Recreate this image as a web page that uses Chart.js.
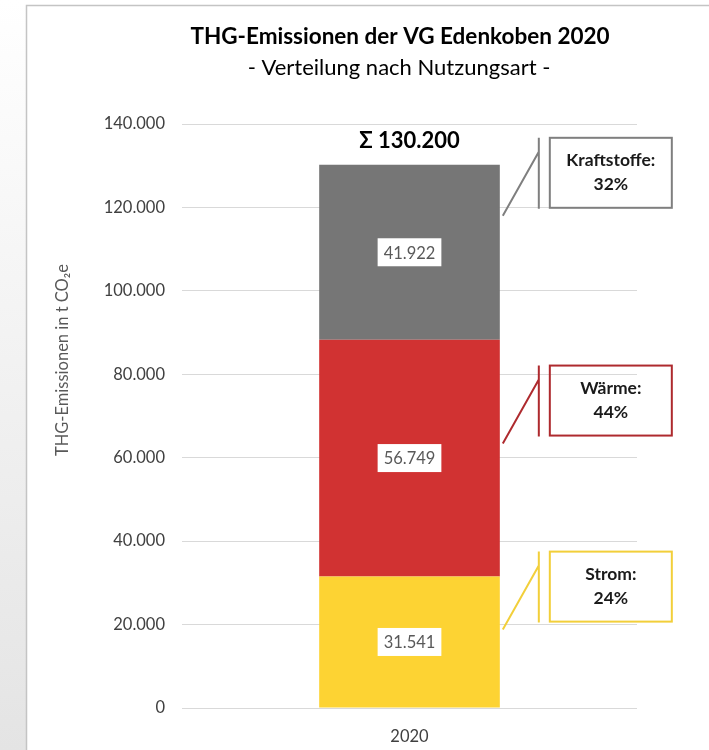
<!DOCTYPE html>
<html>
<head>
<meta charset="utf-8">
<script src="https://cdn.jsdelivr.net/npm/chart.js@4.4.1/dist/chart.umd.min.js"></script>
<style>
  html, body { margin: 0; padding: 0; background: #fff; }
  #wrap { width: 709px; height: 750px; }
</style>
</head>
<body>
<div id="wrap"><canvas id="chart" width="709" height="750"></canvas></div>
<script>
// data
const years = ['2020']
const stromValues = [31541]
const waermeValues = [56749]
const kraftstoffValues = [41922]
const seriesNames = ['Strom', 'Wärme', 'Kraftstoffe']
// where each callout box sits, in t CO2e on the y axis (box centre)
const calloutAt = [29100, 73700, 128300]
const yTicks = [0, 20000, 40000, 60000, 80000, 100000, 120000, 140000]
const yTitle = 'THG-Emissionen in t CO₂e'

const FONT = 'Lato, "Open Sans", sans-serif'

function fmt(v){
    return String(Math.round(v)).replace(/\B(?=(\d{3})+(?!\d))/g, '.')
}

const colors = ['#FDD333', '#D13232', '#767676']
const boxColors = ['#F2CF3A', '#AE2A2E', '#7F7F7F']

const decoPlugin = {
    id: 'deco',
    beforeDraw(chart){
        const ctx = chart.ctx
        ctx.save()
        ctx.fillStyle = '#fff'
        ctx.fillRect(0, 0, chart.width, chart.height)
        const g = ctx.createLinearGradient(0, 0, 0, chart.height)
        g.addColorStop(0, '#ffffff')
        g.addColorStop(1, '#e4e4e4')
        ctx.fillStyle = g
        ctx.fillRect(0, 0, 26, chart.height)
        ctx.strokeStyle = '#c4c4c4'
        ctx.lineWidth = 1.5
        ctx.beginPath()
        ctx.moveTo(26.5, chart.height)
        ctx.lineTo(26.5, 5.5)
        ctx.lineTo(chart.width, 5.5)
        ctx.stroke()

        ctx.fillStyle = '#000'
        ctx.textAlign = 'center'
        ctx.textBaseline = 'middle'
        ctx.font = 'bold 22.5px ' + FONT
        ctx.fillText('THG-Emissionen der VG Edenkoben 2020', 400, 37)
        ctx.font = '22px ' + FONT
        ctx.fillText('- Verteilung nach Nutzungsart -', 399, 68)

        // y axis title, sits a bit above the middle of the axis like in Excel
        ctx.translate(63, 360)
        ctx.rotate(-Math.PI / 2)
        ctx.fillStyle = '#595959'
        ctx.font = '16.5px ' + FONT
        ctx.fillText(yTitle, 0, 0)
        ctx.restore()
    },
    afterDatasetsDraw(chart){
        const ctx = chart.ctx
        const y = chart.scales.y
        ctx.save()
        let total = 0
        let barRight = 0, barX = 0, topY = 0
        chart.data.datasets.forEach((ds, i) => {
            total += ds.data[0]
        })
        chart.data.datasets.forEach((ds, i) => {
            const bar = chart.getDatasetMeta(i).data[0]
            barX = bar.x
            barRight = bar.x + bar.width / 2
            const mid = (bar.y + bar.base) / 2
            topY = Math.min(bar.y, bar.base)
            // value box
            ctx.font = '16.5px ' + FONT
            const txt = fmt(ds.data[0])
            const w = ctx.measureText(txt).width + 12
            ctx.fillStyle = '#fff'
            ctx.fillRect(bar.x - w / 2, mid - 14, w, 28)
            ctx.fillStyle = '#595959'
            ctx.textAlign = 'center'
            ctx.textBaseline = 'middle'
            ctx.fillText(txt, bar.x, mid + 1)

            // callout
            const cy = y.getPixelForValue(calloutAt[i])
            const bx = barRight + 50, bw = 122, bh = 70
            ctx.strokeStyle = boxColors[i]
            ctx.lineWidth = 2
            ctx.strokeRect(bx, cy - bh / 2, bw, bh)
            ctx.beginPath()
            ctx.moveTo(barRight + 39, cy - bh / 2)
            ctx.lineTo(barRight + 39, cy + bh / 2 + 1)
            ctx.moveTo(barRight + 39, cy - bh / 2 + 14)
            ctx.lineTo(barRight + 3, cy + bh / 2 + 8)
            ctx.stroke()
            ctx.fillStyle = '#1a1a1a'
            ctx.font = 'bold 17.5px ' + FONT
            ctx.fillText(ds.label + ':', bx + bw / 2, cy - 12)
            ctx.fillText(Math.round(ds.data[0] / total * 100) + '%', bx + bw / 2, cy + 12)
        })
        ctx.fillStyle = '#000'
        ctx.font = 'bold 22px ' + FONT
        ctx.textAlign = 'center'
        ctx.textBaseline = 'middle'
        ctx.fillText('Σ ' + fmt(Math.round(total / 100) * 100), barX, topY - 24)
        ctx.restore()
    }
}

const chart = new Chart(document.getElementById('chart'), {
    type: 'bar',
    data: {
        labels: years,
        datasets: [
            { label: seriesNames[0], data: stromValues, backgroundColor: colors[0] },
            { label: seriesNames[1], data: waermeValues, backgroundColor: colors[1] },
            { label: seriesNames[2], data: kraftstoffValues, backgroundColor: colors[2] }
        ]
    },
    options: {
        responsive: false,
        animation: false,
        events: [],
        layout: { padding: { top: 124, right: 72, bottom: 0, left: 51 } },
        datasets: { bar: { barPercentage: 0.397, categoryPercentage: 1 } },
        plugins: {
            legend: { display: false },
            tooltip: { enabled: false }
        },
        scales: {
            x: {
                stacked: true,
                grid: { display: false },
                border: { display: false },
                afterFit(scale){ scale.height = 42 },
                ticks: { color: '#404040', font: { family: FONT, size: 16.5 }, padding: 11 }
            },
            y: {
                stacked: true,
                min: 0,
                max: 140000,
                afterBuildTicks(scale){ scale.ticks = yTicks.map(v => ({ value: v })) },
                afterFit(scale){ scale.width = 131 },
                grid: { color: '#d9d9d9', drawTicks: false },
                border: { display: false },
                ticks: {
                    color: '#404040',
                    font: { family: FONT, size: 16.5 },
                    padding: 17,
                    callback: v => fmt(v)
                },
                title: { display: false }
            }
        }
    },
    plugins: [decoPlugin]
})
</script>
</body>
</html>
